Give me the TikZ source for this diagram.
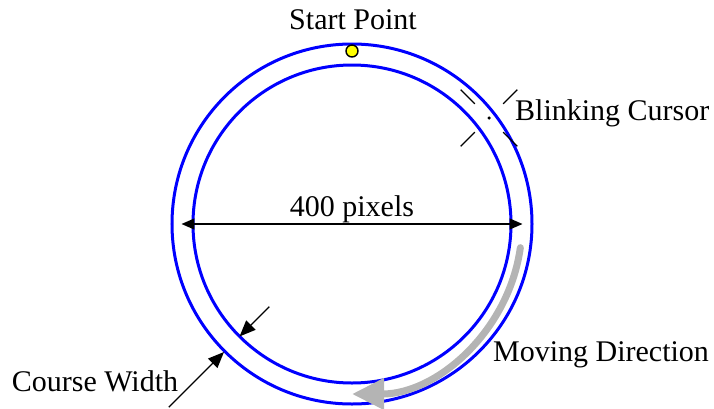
\documentclass[tikz,border=0pt]{standalone}
\usepackage{fontspec}
\setmainfont{Liberation Serif}
\usetikzlibrary{arrows.meta}
\definecolor{trackblue}{HTML}{0000FF}
\definecolor{movegray}{HTML}{B4B4B4}
\definecolor{startyellow}{HTML}{FFFF00}
\begin{document}
\begin{tikzpicture}[x=1pt,y=1pt,
  track/.style={draw=trackblue,line width=3pt},
  lbl/.style={inner sep=0pt,font=\fontsize{30}{35}\selectfont},
  dim/.style={line width=1.4pt,{Triangle[length=13pt,width=11pt]}-{Triangle[length=13pt,width=11pt]}},
  width arr/.style={line width=1.4pt,-{Triangle[length=16pt,width=13pt]}},
  blink/.style={line width=1.4pt},
  move/.style={draw=movegray,line width=7pt,line cap=round,-{Triangle[length=32pt,width=30pt]}}]
\useasboundingbox (-352,-184) rectangle (362,224);
\coordinate (O) at (0,0);
% course
\draw[track] (O) circle[radius=180];
\draw[track] (O) circle[radius=159];
% diameter
\coordinate (DL) at (180:170.5pt);
\coordinate (DR) at (0:170.5pt);
\draw[dim] (DL) -- (DR);
\node[lbl] (dia) at (0,15) {400 pixels};
% start point
\node[circle,draw,line width=1.4pt,fill=startyellow,minimum size=12pt,inner sep=0pt] (S) at (0,173) {};
\node[lbl] (start) at (1,204) {Start Point};
% blinking cursor
\node[circle,fill=black,minimum size=3.5pt,inner sep=0pt] (B) at (137,106) {};
\foreach \a in {45,135,225,315}
  \draw[blink] ([shift={(\a:20pt)}]B.center) -- ([shift={(\a:40pt)}]B.center);
\node[lbl,anchor=west] (blinktxt) at (163,111) {Blinking Cursor};
% moving direction
\draw[move] (-8:170pt) arc[start angle=-8,end angle=-90,radius=170pt];
\node[lbl,anchor=west] (movetxt) at (141,-131) {Moving Direction};
% course width
\coordinate (W1) at (225:259pt);
\coordinate (W2) at (225:181pt);
\coordinate (W3) at (225:117pt);
\coordinate (W4) at (225:159pt);
\draw[width arr] (W1) -- (W2);
\draw[width arr] (W3) -- (W4);
\node[lbl] (cwtxt) at (-257,-157) {Course Width};
\end{tikzpicture}
\end{document}
